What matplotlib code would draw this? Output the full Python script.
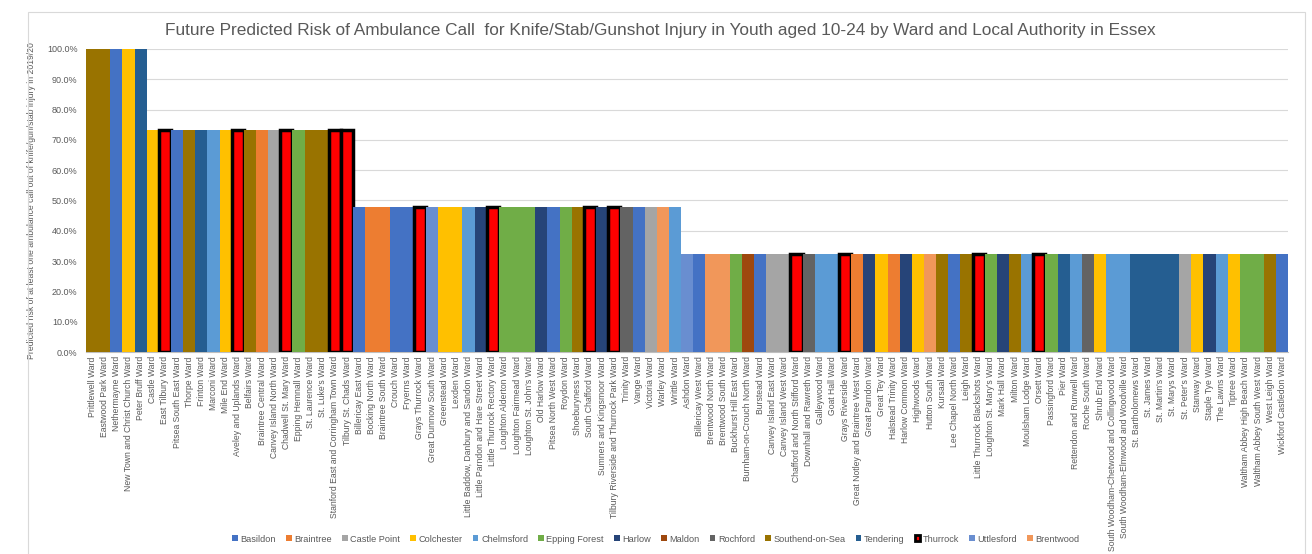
import matplotlib
matplotlib.use("Agg")
import matplotlib.pyplot as plt
from matplotlib.patches import Patch, Rectangle
from matplotlib.ticker import PercentFormatter

plt.rcParams['font.family'] = ['Liberation Sans', 'DejaVu Sans']

# ward, local authority, predicted risk
wards = [
    "Prittlewell Ward", "Eastwood Park Ward", "Nethermayne Ward", "New Town and Christ Church Ward",
    "Peter Bruff Ward", "Castle Ward", "East Tilbury Ward", "Pitsea South East Ward", "Thorpe Ward",
    "Frinton Ward", "Marconi Ward", "Mile End Ward", "Aveley and Uplands Ward", "Belfairs Ward",
    "Braintree Central Ward", "Canvey Island North Ward", "Chadwell St. Mary Ward", "Epping Hemnall Ward",
    "St. Laurence Ward", "St. Luke's Ward", "Stanford East and Corringham Town Ward", "Tilbury St. Chads Ward",
    "Billericay East Ward", "Bocking North Ward", "Braintree South Ward", "Crouch Ward", "Fryerns Ward",
    "Grays Thurrock Ward", "Great Dunmow South Ward", "Greenstead Ward", "Lexden Ward",
    "Little Baddow, Danbury and Sandon Ward", "Little Parndon and Hare Street Ward",
    "Little Thurrock Rectory Ward", "Loughton Alderton Ward", "Loughton Fairmead Ward",
    "Loughton St. John's Ward", "Old Harlow Ward", "Pitsea North West Ward", "Roydon Ward",
    "Shoeburyness Ward", "South Chafford Ward", "Sumners and Kingsmoor Ward",
    "Tilbury Riverside and Thurrock Park Ward", "Trinity Ward", "Vange Ward", "Victoria Ward",
    "Warley Ward", "Writtle Ward", "Ashdon Ward", "Billericay West Ward", "Brentwood North Ward",
    "Brentwood South Ward", "Buckhurst Hill East Ward", "Burnham-on-Crouch North Ward", "Burstead Ward",
    "Canvey Island East Ward", "Canvey Island West Ward", "Chafford and North Stifford Ward",
    "Downhall and Rawreth Ward", "Galleywood Ward", "Goat Hall Ward", "Grays Riverside Ward",
    "Great Notley and Braintree West Ward", "Great Parndon Ward", "Great Tey Ward",
    "Halstead Trinity Ward", "Harlow Common Ward", "Highwoods Ward", "Hutton South Ward",
    "Kursaal Ward", "Lee Chapel North Ward", "Leigh Ward", "Little Thurrock Blackshots Ward",
    "Loughton St. Mary's Ward", "Mark Hall Ward", "Milton Ward", "Moulsham Lodge Ward", "Orsett Ward",
    "Passingford Ward", "Pier Ward", "Rettendon and Runwell Ward", "Roche South Ward", "Shrub End Ward",
    "South Woodham-Chetwood and Collingwood Ward", "South Woodham-Elmwood and Woodville Ward",
    "St. Bartholomews Ward", "St. James Ward", "St. Martin's Ward", "St. Marys Ward", "St. Peter's Ward",
    "Stanway Ward", "Staple Tye Ward", "The Lawns Ward", "Tiptree Ward",
    "Waltham Abbey High Beach Ward", "Waltham Abbey South West Ward", "West Leigh Ward",
    "Wickford Castledon Ward",
]

authorities = [
    "Southend-on-Sea", "Southend-on-Sea", "Basildon", "Colchester", "Tendering",
    "Colchester", "Thurrock", "Basildon", "Southend-on-Sea", "Tendering", "Chelmsford", "Colchester",
    "Thurrock", "Southend-on-Sea", "Braintree", "Castle Point", "Thurrock", "Epping Forest",
    "Southend-on-Sea", "Southend-on-Sea", "Thurrock", "Thurrock",
    "Basildon", "Braintree", "Braintree", "Basildon", "Basildon", "Thurrock", "Uttlesford",
    "Colchester", "Colchester", "Chelmsford", "Harlow", "Thurrock", "Epping Forest", "Epping Forest",
    "Epping Forest", "Harlow", "Basildon", "Epping Forest", "Southend-on-Sea", "Thurrock", "Harlow",
    "Thurrock", "Rochford", "Basildon", "Castle Point", "Brentwood", "Chelmsford",
    "Uttlesford", "Basildon", "Brentwood", "Brentwood", "Epping Forest", "Maldon", "Basildon",
    "Castle Point", "Castle Point", "Thurrock", "Rochford", "Chelmsford", "Chelmsford", "Thurrock",
    "Braintree", "Harlow", "Colchester", "Braintree", "Harlow", "Colchester", "Brentwood",
    "Southend-on-Sea", "Basildon", "Southend-on-Sea", "Thurrock", "Epping Forest", "Harlow",
    "Southend-on-Sea", "Chelmsford", "Thurrock", "Epping Forest", "Tendering", "Chelmsford",
    "Rochford", "Colchester", "Chelmsford", "Chelmsford", "Tendering", "Tendering", "Tendering",
    "Tendering", "Castle Point", "Colchester", "Harlow", "Chelmsford", "Colchester",
    "Epping Forest", "Epping Forest", "Southend-on-Sea", "Basildon",
]

risk = [
    1.0, 1.0, 1.0, 1.0, 1.0,
    0.733, 0.733, 0.733, 0.733, 0.733, 0.733, 0.733, 0.733, 0.733, 0.733,
    0.733, 0.733, 0.733, 0.733, 0.733, 0.733, 0.733,
    0.478, 0.478, 0.478, 0.478, 0.478, 0.478, 0.478, 0.478, 0.478, 0.478,
    0.478, 0.478, 0.478, 0.478, 0.478, 0.478, 0.478, 0.478, 0.478, 0.478,
    0.478, 0.478, 0.478, 0.478, 0.478, 0.478, 0.478,
    0.322, 0.322, 0.322, 0.322, 0.322, 0.322, 0.322, 0.322, 0.322, 0.322,
    0.322, 0.322, 0.322, 0.322, 0.322, 0.322, 0.322, 0.322, 0.322, 0.322,
    0.322, 0.322, 0.322, 0.322, 0.322, 0.322, 0.322, 0.322, 0.322, 0.322,
    0.322, 0.322, 0.322, 0.322, 0.322, 0.322, 0.322, 0.322, 0.322, 0.322,
    0.322, 0.322, 0.322, 0.322, 0.322, 0.322, 0.322, 0.322, 0.322, 0.322,
]

legend_order = ["Basildon", "Braintree", "Castle Point", "Colchester", "Chelmsford", "Epping Forest",
                "Harlow", "Maldon", "Rochford", "Southend-on-Sea", "Tendering", "Thurrock",
                "Uttlesford", "Brentwood"]

la_colours = {
    "Basildon": "#4472C4", "Braintree": "#ED7D31", "Castle Point": "#A5A5A5",
    "Colchester": "#FFC000", "Chelmsford": "#5B9BD5", "Epping Forest": "#70AD47",
    "Harlow": "#264478", "Maldon": "#9E480E", "Rochford": "#636363",
    "Southend-on-Sea": "#997300", "Tendering": "#255E91", "Thurrock": "#FF0000",
    "Uttlesford": "#698ED0", "Brentwood": "#F1975A",
}

grey = "#595959"

fig = plt.figure(figsize=(13.12, 5.54), dpi=100)
ax = fig.add_axes([0.0655, 0.3646, 0.9165, 0.547])

x = list(range(len(wards)))
colours = [la_colours[a] for a in authorities]
edges = ["black" if a == "Thurrock" else "none" for a in authorities]
lws = [2.5 if a == "Thurrock" else 0 for a in authorities]
ax.bar(x, risk, width=1.0, color=colours, edgecolor=edges, linewidth=lws, zorder=3)

ax.set_xlim(-0.5, len(wards) - 0.5)
ax.set_ylim(0, 1.0)
ax.set_yticks([i / 10 for i in range(11)])
ax.yaxis.set_major_formatter(PercentFormatter(1.0, decimals=1))
ax.grid(axis="y", color="#D9D9D9", linewidth=0.8, zorder=0)
ax.set_xticks(x)
ax.set_xticklabels(wards, rotation=90, fontsize=6.2, color=grey)
ax.tick_params(axis="y", labelsize=6.5, labelcolor=grey, length=0, pad=6)
ax.tick_params(axis="x", length=0, pad=3)
for s in ["top", "right", "left"]:
    ax.spines[s].set_visible(False)
ax.spines["bottom"].set_color("#BFBFBF")

ax.set_ylabel("Predicted risk of at least one ambulance call out of knife/gun/stab injury in 2019/20",
              fontsize=6.2, color=grey, labelpad=8)

fig.text(0.503, 0.945,
         "Future Predicted Risk of Ambulance Call  for Knife/Stab/Gunshot Injury in Youth aged 10-24 "
         "by Ward and Local Authority in Essex",
         ha="center", va="center", fontsize=12.4, color=grey)

handles = []
for la in legend_order:
    if la == "Thurrock":
        handles.append(Patch(facecolor=la_colours[la], edgecolor="black", linewidth=2, label=la))
    else:
        handles.append(Patch(facecolor=la_colours[la], edgecolor="none", label=la))
fig.legend(handles=handles, loc="center", bbox_to_anchor=(0.5, 0.027), ncol=14, frameon=False,
           fontsize=6.6, handlelength=0.6, handleheight=0.6, handletextpad=0.3,
           columnspacing=1.1, labelcolor=grey)

fig.patches.append(Rectangle((0.021, -0.01), 0.974, 0.988, transform=fig.transFigure,
                             fill=False, edgecolor="#D9D9D9", linewidth=0.8))

fig.savefig("out.png", dpi=100)
